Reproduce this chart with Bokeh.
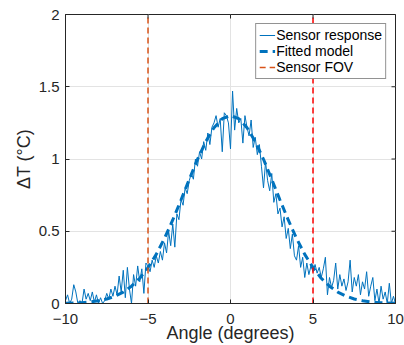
import math
from bokeh.plotting import figure
from bokeh.models import FixedTicker, Range1d, Legend, LegendItem
from bokeh.embed import file_html
from bokeh.resources import INLINE

# ---- data ----
angle_start = -10.0
angle_step = 0.125
sensor_response = [
    0.02, 0.06, 0.00, 0.03, 0.13, 0.08, 0.00, 0.02,
    0.00, 0.10, 0.03, 0.07, 0.02, 0.08, 0.01, 0.06,
    0.00, 0.04, 0.00, 0.02, 0.07, 0.03, 0.10, 0.05,
    0.12, 0.06, 0.19, 0.08, 0.23, 0.04, 0.25, 0.10,
    0.00, 0.20, 0.12, 0.26, 0.15, 0.24, 0.07, 0.28,
    0.26, 0.22, 0.30, 0.25, 0.33, 0.28, 0.36, 0.30,
    0.42, 0.35, 0.50, 0.40, 0.55, 0.39, 0.62, 0.58,
    0.72, 0.68, 0.80, 0.76, 0.85, 0.90, 0.86, 1.00,
    0.95, 1.05, 1.00, 1.12, 1.06, 1.18, 1.10, 1.22,
    1.25, 1.30, 1.22, 1.28, 1.05, 1.32, 1.30, 1.25,
    1.07, 1.47, 1.20, 1.35, 1.25, 1.28, 1.11, 1.30,
    1.22, 1.16, 1.27, 1.08, 1.15, 1.03, 1.10, 0.95,
    0.80, 0.98, 0.85, 0.78, 0.90, 0.70, 0.76, 0.62,
    0.66, 0.53, 0.60, 0.45, 0.52, 0.38, 0.48, 0.33,
    0.30, 0.40, 0.25, 0.32, 0.18, 0.28, 0.20, 0.26,
    0.22, 0.27, 0.21, 0.25, 0.18, 0.24, 0.32, 0.06,
    0.18, 0.11, 0.16, 0.28, 0.10, 0.20, 0.12, 0.17,
    0.09, 0.15, 0.30, 0.08, 0.18, 0.12, 0.20, 0.06,
    0.15, 0.10, 0.22, 0.05, 0.12, 0.18, 0.02, 0.10,
    0.00, 0.12, 0.03, 0.08, 0.00, 0.14, 0.00, 0.05,
    0.00,
]
sensor_angles = [angle_start + angle_step * i for i in range(len(sensor_response))]

fit_angles = [-10, -9.5, -9, -8.5, -8, -7.5, -7, -6.5, -6, -5.5, -5, -4.5, -4, -3.5, -3,
              -2.5, -2, -1.5, -1, -0.5, 0, 0.5, 1, 1.5, 2, 2.5, 3, 3.5, 4, 4.5, 5,
              5.5, 6, 6.5, 7, 7.5, 8, 8.5, 9, 9.5, 10]
fit_values = [0.002, 0.003, 0.006, 0.011, 0.019, 0.031, 0.051, 0.079, 0.120, 0.175, 0.248,
              0.340, 0.451, 0.578, 0.716, 0.859, 0.998, 1.120, 1.217, 1.279, 1.300,
              1.279, 1.217, 1.120, 0.998, 0.859, 0.716, 0.578, 0.451, 0.340, 0.248,
              0.175, 0.120, 0.079, 0.051, 0.031, 0.019, 0.011, 0.006, 0.003, 0.002]

fov_angles = [-5, 5]
fov_colors = ["#D95319", "#FF0000"]

x_ticks = [-10, -5, 0, 5, 10]
y_ticks = [0, 0.5, 1, 1.5, 2]

# ---- styling ----
BLUE = "#0072BD"
AX = "#262626"
FONT = "Liberation Sans"

p = figure(width=404, height=345, output_backend="svg", toolbar_location=None,
           x_range=Range1d(x_ticks[0], x_ticks[-1]), y_range=Range1d(y_ticks[0], y_ticks[-1]),
           min_border_left=65, min_border_right=9, min_border_top=14, min_border_bottom=42,
           x_axis_label="Angle (degrees)", y_axis_label="ΔT (°C)")
p.background_fill_color = "white"
p.border_fill_color = "white"
p.outline_line_color = AX
p.outline_line_width = 1

r_sensor = p.line(sensor_angles, sensor_response, line_color=BLUE, line_width=1)
r_fit = p.line(fit_angles, fit_values, line_color=BLUE, line_width=3, line_dash="8 5")
r_fov = p.segment(x0=fov_angles, x1=fov_angles, y0=[y_ticks[0]] * 2, y1=[y_ticks[-1]] * 2,
                  line_color=fov_colors, line_width=1.5, line_dash="6 4")

# mirrored tick marks on top and right edges (clipped to the frame, so only the inner half shows)
p.scatter(x=x_ticks, y=[y_ticks[-1]] * len(x_ticks), marker="dash", size=8,
          angle=math.pi / 2, line_color=AX, line_width=1)
p.scatter(x=[x_ticks[-1]] * len(y_ticks), y=y_ticks, marker="dash", size=8,
          line_color=AX, line_width=1)

for ax in p.xaxis + p.yaxis:
    ax.major_tick_in = 4
    ax.major_tick_out = 0
    ax.minor_tick_in = 0
    ax.minor_tick_out = 0
    ax.axis_line_color = AX
    ax.major_tick_line_color = AX
    ax.major_label_text_font = FONT
    ax.major_label_text_font_size = "15px"
    ax.major_label_text_color = AX
    ax.axis_label_text_font = FONT
    ax.axis_label_text_font_size = "18px"
    ax.axis_label_text_font_style = "normal"
    ax.axis_label_text_color = AX

p.xaxis.ticker = FixedTicker(ticks=x_ticks)
p.yaxis.ticker = FixedTicker(ticks=y_ticks)
p.xaxis.major_label_standoff = 10
p.yaxis.major_label_standoff = 6
p.xaxis.axis_label_standoff = -4
p.yaxis.axis_label_standoff = 2
p.yaxis.major_label_overrides = {0: "0", 1: "1", 2: "2"}

p.xgrid.ticker = FixedTicker(ticks=x_ticks)
p.ygrid.ticker = FixedTicker(ticks=y_ticks)
p.grid.grid_line_color = "#e3e3e3"
p.grid.grid_line_width = 1

legend = Legend(items=[
    LegendItem(label="Sensor response", renderers=[r_sensor]),
    LegendItem(label="Fitted model", renderers=[r_fit]),
    LegendItem(label="Sensor FOV", renderers=[r_fov], index=0),
], location="top_right")
legend.label_text_font = FONT
legend.label_text_font_size = "14px"
legend.label_text_line_height = 0.9
legend.label_text_color = "black"
legend.border_line_color = AX
legend.border_line_width = 1
legend.background_fill_alpha = 1
legend.glyph_width = 16
legend.glyph_height = 14
legend.label_height = 14
legend.label_standoff = 1
legend.padding = 3
legend.spacing = 0
legend.margin = 9
p.add_layout(legend)

open("out.html", "w").write(file_html(p, INLINE))
